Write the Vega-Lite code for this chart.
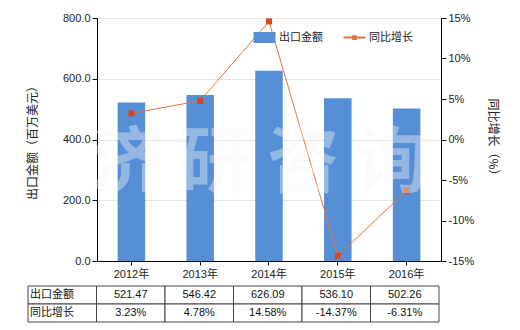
{
  "$schema": "https://vega.github.io/schema/vega-lite/v6.json",
  "padding": {"left": 26, "top": 12, "right": 5, "bottom": 5},
  "background": "white",
  "spacing": 6,
  "config": {
    "font": "Liberation Sans, Noto Sans CJK SC",
    "view": {"stroke": null},
    "locale": {"number": {"decimal": ".", "thousands": ",", "grouping": [3], "currency": ["", ""], "minus": "-"}},
    "axis": {"labelFontSize": 11, "labelColor": "#222", "titleFontSize": 12, "titleFontWeight": "normal", "titleColor": "#222", "domainColor": "#000", "tickColor": "#000", "labelFont": "Liberation Sans, Noto Sans CJK SC", "titleFont": "Noto Sans CJK SC"}
  },
  "datasets": {
    "main": [
      {"year": "2012年", "amount": 521.47, "growth": 0.0323},
      {"year": "2013年", "amount": 546.42, "growth": 0.0478},
      {"year": "2014年", "amount": 626.09, "growth": 0.1458},
      {"year": "2015年", "amount": 536.10, "growth": -0.1437},
      {"year": "2016年", "amount": 502.26, "growth": -0.0631}
    ],
    "rows": [
      {"row": "amount", "name": "出口金额"},
      {"row": "growth", "name": "同比增长"}
    ]
  },
  "vconcat": [
    {
      "width": 344,
      "height": 243,
      "data": {"name": "main"},
      "encoding": {
        "x": {
          "field": "year", "type": "nominal", "sort": null,
          "scale": {"paddingInner": 0.6, "paddingOuter": 0.3},
          "axis": {"title": null, "labelAngle": 0, "tickSize": 4, "labelPadding": 3, "grid": false}
        }
      },
      "layer": [
        {
          "encoding": {
            "y": {
              "field": "amount", "type": "quantitative",
              "scale": {"domain": [0, 800], "nice": false},
              "axis": {"values": [0, 200, 400, 600, 800], "format": ".1f", "title": "出口金额（百万美元）", "titlePadding": 23, "grid": true, "gridColor": "#e6e6e6", "tickSize": 5, "labelPadding": 2}
            }
          },
          "layer": [
            {
              "mark": {"type": "bar", "color": "#568FD6"},
              "encoding": {
                "color": {
                  "datum": "出口金额", "type": "nominal",
                  "scale": {"domain": ["出口金额", "同比增长"], "range": ["#568FD6", "#E8733A"]},
                  "legend": {
                    "orient": "none", "legendX": 162, "legendY": 14, "direction": "horizontal", "title": null,
                    "symbolSize": 484, "labelFontSize": 11, "labelColor": "#222", "labelOffset": 9, "columnPadding": 16, "padding": 0,
                    "labelFont": "Noto Sans CJK SC",
                    "encode": {
                      "symbols": {
                        "update": {
                          "shape": {"signal": "datum.value === '出口金额' ? 'M-1,-0.5H1V0.5H-1Z' : 'M-1,0H1M-0.12,-0.12H0.12V0.12H-0.12Z'"},
                          "fill": {"signal": "datum.value === '出口金额' ? '#568FD6' : '#D9461A'"},
                          "stroke": {"signal": "datum.value === '出口金额' ? '#568FD6' : '#D9501E'"},
                          "strokeWidth": {"signal": "datum.value === '出口金额' ? 0 : 2"},
                          "opacity": {"value": 1}
                        }
                      }
                    }
                  }
                }
              }
            }
          ]
        },
        {
          "encoding": {
            "y": {
              "field": "growth", "type": "quantitative",
              "scale": {"domain": [-0.15, 0.15], "nice": false},
              "axis": {"orient": "right", "values": [-0.15, -0.1, -0.05, 0, 0.05, 0.1, 0.15], "format": ".0%", "title": "同比增长（%）", "titlePadding": 12, "grid": false, "tickSize": 5, "labelPadding": 2}
            }
          },
          "layer": [
            {
              "mark": {"type": "line", "strokeWidth": 1},
              "encoding": {"color": {"datum": "同比增长", "type": "nominal"}}
            },
            {
              "mark": {"type": "point", "shape": "square", "filled": true, "size": 36, "color": "#D9461A", "opacity": 1}
            },
            {
              "transform": [{"filter": "datum.year === '2014年'"}],
              "mark": {"type": "text", "text": "济 研 咨 询", "font": "Noto Sans CJK SC", "fontWeight": "bold", "fontSize": 72, "fill": "#f4f4f4", "fillOpacity": 0.4, "dx": -10, "baseline": "middle", "align": "center"},
              "encoding": {
                "y": {"datum": -0.03, "type": "quantitative"}
              }
            }
          ]
        }
      ],
      "resolve": {"scale": {"y": "independent"}}
    },
    {
      "width": 342,
      "height": 36,
      "layer": [
        {
          "data": {"name": "main"},
          "transform": [{"fold": ["amount", "growth"], "as": ["row", "val"]}],
          "mark": {"type": "rect", "fill": "white", "stroke": "#444", "strokeWidth": 1},
          "encoding": {
            "x": {"field": "year", "type": "nominal", "scale": {"domain": ["label", "2012年", "2013年", "2014年", "2015年", "2016年"], "range": [-69, 342], "paddingInner": 0, "paddingOuter": 0}, "axis": null},
            "y": {"field": "row", "type": "nominal", "scale": {"domain": ["amount", "growth"], "paddingInner": 0, "paddingOuter": 0}, "axis": null}
          }
        },
        {
          "data": {"name": "rows"},
          "mark": {"type": "rect", "fill": "white", "stroke": "#444", "strokeWidth": 1},
          "encoding": {
            "x": {"datum": "label", "type": "nominal", "axis": null},
            "y": {"field": "row", "type": "nominal", "axis": null}
          }
        },
        {
          "data": {"name": "rows"},
          "mark": {"type": "text", "align": "left", "dx": 2, "fontSize": 11, "color": "#111", "font": "Noto Sans CJK SC"},
          "encoding": {
            "x": {"datum": "label", "type": "nominal", "bandPosition": 0, "axis": null},
            "y": {"field": "row", "type": "nominal", "axis": null},
            "text": {"field": "name"}
          }
        },
        {
          "data": {"name": "main"},
          "mark": {"type": "text", "fontSize": 11, "color": "#111"},
          "encoding": {
            "x": {"field": "year", "type": "nominal", "axis": null},
            "y": {"datum": "amount", "type": "nominal", "axis": null},
            "text": {"field": "amount", "type": "quantitative", "format": ".2f"}
          }
        },
        {
          "data": {"name": "main"},
          "mark": {"type": "text", "fontSize": 11, "color": "#111"},
          "encoding": {
            "x": {"field": "year", "type": "nominal", "axis": null},
            "y": {"datum": "growth", "type": "nominal", "axis": null},
            "text": {"field": "growth", "type": "quantitative", "format": ".2%"}
          }
        }
      ]
    }
  ]
}
